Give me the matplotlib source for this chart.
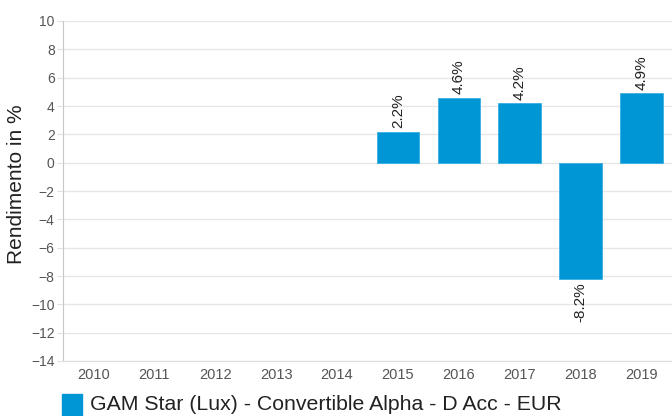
import matplotlib
matplotlib.use("Agg")
import matplotlib.pyplot as plt

years = ["2010", "2011", "2012", "2013", "2014", "2015", "2016", "2017", "2018", "2019"]
values = [None, None, None, None, None, 2.2, 4.6, 4.2, -8.2, 4.9]
series_name = "GAM Star (Lux) - Convertible Alpha - D Acc - EUR"
yticks = list(range(-14, 11, 2))

plt.rcParams['font.family'] = ['Liberation Sans', 'DejaVu Sans']
color = "#0096D6"

fig = plt.figure(figsize=(6.72, 4.16), dpi=100)
ax = fig.add_axes([63/672, 1 - 361/416, (672-63)/672, (361-21)/416])

xs = [i for i, v in enumerate(values) if v is not None]
vs = [v for v in values if v is not None]
ax.bar(xs, vs, width=0.70, color=color, edgecolor="#3BAEE3", linewidth=0.6, zorder=3)
for x, v in zip(xs, vs):
    if v >= 0:
        ax.text(x, v + 0.25, f"{v:.1f}%", rotation=90, ha="center", va="bottom", fontsize=11, color="#222222")
    else:
        ax.text(x, v - 0.25, f"{v:.1f}%", rotation=90, ha="center", va="top", fontsize=11, color="#222222")

ax.set_xlim(-0.5, len(years) - 0.5)
ax.set_ylim(-14, 10)
ax.set_xticks(range(len(years)))
ax.set_xticklabels(years)
ax.set_yticks(yticks)
ax.grid(axis="y", color="#E6E6E6", linewidth=1, zorder=0)
for s in ["top", "right"]:
    ax.spines[s].set_visible(False)
ax.spines["left"].set_color("#C8C8C8")
ax.spines["bottom"].set_color("#DDDDDD")
ax.tick_params(axis="y", length=4, color="#E0E0E0", labelsize=10, labelcolor="#555555", pad=2)
ax.tick_params(axis="x", length=0, labelsize=10.5, labelcolor="#555555", pad=5)
ax.set_ylabel("Rendimento in %", fontsize=15, color="#222222")
ax.yaxis.set_label_coords(-37/609, 0.52)

# legend
fig.patches.append(plt.Rectangle((62/672, 0), 20/672, 22/416, transform=fig.transFigure, color=color))
fig.text(90/672, 1 - 405/416, series_name, fontsize=15.3, color="#222222", va="center", ha="left")

fig.savefig("out.png", dpi=100)
